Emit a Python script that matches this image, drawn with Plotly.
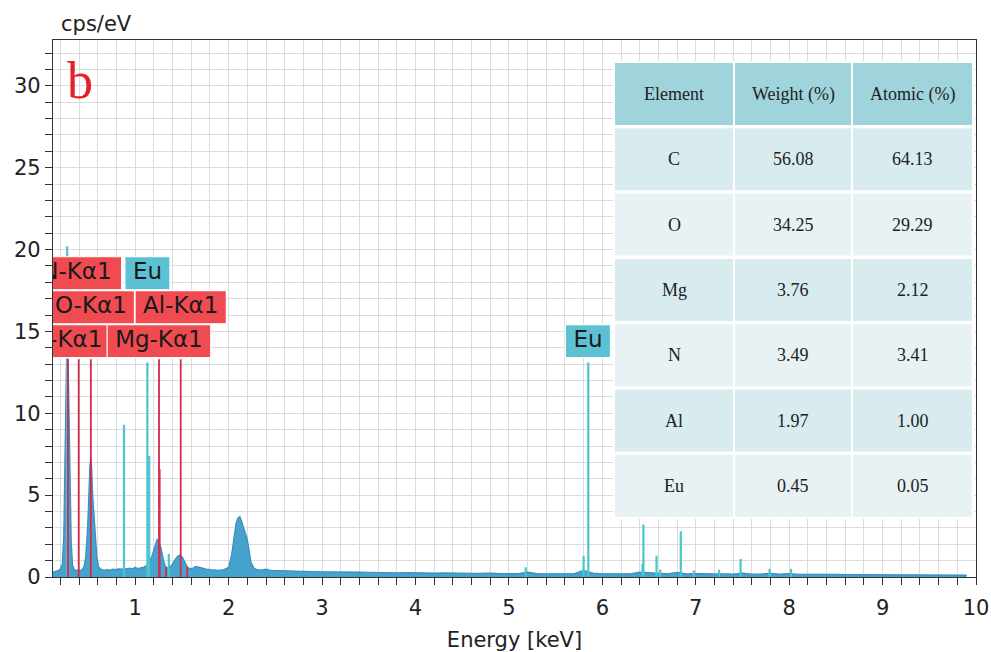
import plotly.graph_objects as go

# ---------------- data ----------------
energy_kev = [0.12, 0.15, 0.18, 0.20, 0.22, 0.235, 0.245, 0.255, 0.265, 0.275, 0.285, 0.295,
              0.305, 0.315, 0.33, 0.35, 0.37, 0.39, 0.41, 0.43, 0.45, 0.47, 0.49, 0.505, 0.515,
              0.525, 0.535, 0.545, 0.56, 0.575, 0.59, 0.61, 0.64, 0.67, 0.70, 0.73, 0.76, 0.79,
              0.82, 0.85, 0.88, 0.91, 0.94, 0.97, 1.00, 1.03, 1.06, 1.09, 1.12, 1.15, 1.18, 1.21,
              1.235, 1.255, 1.275, 1.30, 1.32, 1.34, 1.37, 1.40, 1.43, 1.46, 1.485, 1.51, 1.535,
              1.56, 1.59, 1.62, 1.65, 1.68, 1.72, 1.76, 1.80, 1.85, 1.90, 1.95, 2.00, 2.03, 2.06,
              2.08, 2.10, 2.12, 2.14, 2.16, 2.18, 2.20, 2.22, 2.24, 2.27, 2.30, 2.35, 2.40, 2.45,
              2.5, 2.6, 2.7, 2.8, 2.9, 3.0, 3.1, 3.2, 3.3, 3.4, 3.5, 3.6, 3.7, 3.8, 3.9, 4.0, 4.1,
              4.2, 4.3, 4.4, 4.5, 4.6, 4.7, 4.8, 4.9, 5.0, 5.1, 5.2, 5.3, 5.4, 5.5, 5.6, 5.7, 5.8,
              5.9, 6.0, 6.1, 6.2, 6.3, 6.4, 6.5, 6.6, 6.7, 6.8, 6.9, 7.0, 7.1, 7.2, 7.3, 7.4, 7.5,
              7.6, 7.7, 7.8, 7.9, 8.0, 8.1, 8.2, 8.3, 8.4, 8.5, 8.6, 8.7, 8.8, 8.9, 9.0, 9.1, 9.2,
              9.3, 9.4, 9.5, 9.6, 9.7, 9.8, 9.9]
counts_cps = [0.30, 0.35, 0.40, 0.50, 0.80, 2.5, 6.5, 11.0, 13.5, 13.8, 12.5, 9.0,
              5.0, 2.2, 0.7, 0.45, 0.40, 0.45, 0.40, 0.45, 0.60, 1.2, 3.0, 5.5, 6.8,
              7.3, 6.6, 5.0, 3.9, 2.6, 1.2, 0.6, 0.45, 0.40, 0.45, 0.42, 0.48, 0.45,
              0.50, 0.48, 0.52, 0.50, 0.55, 0.50, 0.58, 0.52, 0.55, 0.60, 0.70, 0.90, 1.3, 1.9,
              2.3, 2.2, 1.8, 1.1, 0.7, 0.55, 0.60, 0.80, 1.10, 1.30, 1.35, 1.15, 0.85,
              0.60, 0.50, 0.55, 0.65, 0.60, 0.52, 0.48, 0.45, 0.42, 0.40, 0.45, 0.60, 1.3, 2.6,
              3.3, 3.6, 3.7, 3.4, 3.0, 2.7, 2.3, 1.6, 0.9, 0.55, 0.45, 0.42, 0.48, 0.40,
              0.40, 0.37, 0.36, 0.34, 0.35, 0.32, 0.31, 0.32, 0.29, 0.30, 0.29, 0.27, 0.29, 0.26, 0.27, 0.25, 0.26,
              0.24, 0.25, 0.23, 0.24, 0.23, 0.22, 0.24, 0.21, 0.22, 0.21, 0.30, 0.21, 0.20, 0.21, 0.19, 0.21, 0.40,
              0.24, 0.20, 0.19, 0.20, 0.19, 0.30, 0.27, 0.23, 0.19, 0.29, 0.19, 0.21, 0.18, 0.19, 0.20, 0.18, 0.24,
              0.17, 0.18, 0.23, 0.17, 0.21, 0.16, 0.17, 0.16, 0.15, 0.16, 0.15, 0.15, 0.14, 0.15, 0.14, 0.14, 0.13,
              0.14, 0.13, 0.13, 0.12, 0.13, 0.12, 0.12]

# Eu marker lines (energy keV, height cps/eV)
eu_line_e = [0.272, 0.88, 1.13, 1.15, 1.36, 5.18, 5.80, 5.85, 6.43, 6.44, 6.58, 6.62, 6.84, 6.98, 7.25, 7.48, 7.79, 8.02]
eu_line_h = [20.2, 9.3, 13.1, 7.4, 1.4, 0.6, 1.3, 13.1, 0.8, 3.2, 1.3, 0.45, 2.8, 0.4, 0.45, 1.1, 0.5, 0.5]

# identified element marker lines
el_line_e = [0.280, 0.395, 0.525, 1.255, 1.487, 1.262, 1.33, 1.557]
el_line_h = [13.3, 13.3, 13.3, 13.3, 13.3, 6.6, 0.6, 0.6]

# peak labels
label_text = ["C-Kα1", "N-Kα1", "O-Kα1", "Mg-Kα1", "Al-Kα1", "Eu", "Eu"]
label_e = [0.277, 0.392, 0.525, 1.254, 1.487, 1.131, 5.846]
label_row = [0, 2, 1, 0, 1, 2, 0]
label_is_eu = [False, False, False, False, False, True, True]

# composition table
tbl_header = ["Element", "Weight (%)", "Atomic (%)"]
tbl_element = ["C", "O", "Mg", "N", "Al", "Eu"]
tbl_weight = ["56.08", "34.25", "3.76", "3.49", "1.97", "0.45"]
tbl_atomic = ["64.13", "29.29", "2.12", "3.41", "1.00", "0.05"]

x_ticks = [1, 2, 3, 4, 5, 6, 7, 8, 9, 10]
y_ticks = [0, 5, 10, 15, 20, 25, 30]

# ---------------- layout constants ----------------
W, H = 991, 652
ML, MR, MT, MB = 53, 15, 40, 75
PW, PH = W - ML - MR, H - MT - MB
XR = [0.12, 10.0]
YR = [0.0, 32.8]
px_per_kev = PW / (XR[1] - XR[0])


def px2px(xp):  # pixel x -> paper fraction
    return (xp - ML) / PW


def py2py(yp):  # pixel y -> paper fraction
    return (H - MB - yp) / PH


FONT = "DejaVu Sans"
SPEC_COLOR = "#45a3cd"
EU_COLOR = "#4cc4d0"
EL_COLOR = "#d42a4c"
RED_BOX = "#ef4b50"
CYAN_BOX = "#5cc1d4"

fig = go.Figure()

fig.add_trace(go.Scatter(x=energy_kev, y=counts_cps, mode="lines", fill="tozeroy",
                         line=dict(color="#3a8fbf", width=1.2), fillcolor=SPEC_COLOR,
                         hoverinfo="skip", showlegend=False))


def vlines(es, hs):
    xs, ys = [], []
    for e, h in zip(es, hs):
        xs += [e, e, None]
        ys += [0, h, None]
    return xs, ys


xs, ys = vlines(eu_line_e, eu_line_h)
fig.add_trace(go.Scatter(x=xs, y=ys, mode="lines", line=dict(color=EU_COLOR, width=2.2),
                         hoverinfo="skip", showlegend=False))
xs, ys = vlines(el_line_e, el_line_h)
fig.add_trace(go.Scatter(x=xs, y=ys, mode="lines", line=dict(color=EL_COLOR, width=1.8),
                         hoverinfo="skip", showlegend=False))

# label boxes sized from a text-width estimate (DejaVu Sans advance widths, em)
LABEL_FS = 23
cw = {'M': 0.863, 'g': 0.635, '-': 0.361, 'K': 0.656, 'α': 0.659, '1': 0.636, 'A': 0.684,
      'l': 0.278, 'O': 0.787, 'C': 0.698, 'N': 0.748, 'E': 0.632, 'u': 0.634}
label_dx_px = [0, -2, 0, 0, 0, 0, 0]
ROW_BASE, ROW_H, BOX_H = 13.4, 2.07, 2.02
row_mid, text_x = [], []
for t, e, r, iseu, dx in zip(label_text, label_e, label_row, label_is_eu, label_dx_px):
    wpx = sum(cw.get(c, 0.6) for c in t) * LABEL_FS + 16
    hw = wpx / 2 / px_per_kev
    y0 = ROW_BASE + r * ROW_H
    y1 = y0 + BOX_H
    row_mid.append((y0 + y1) / 2)
    text_x.append(e + dx / px_per_kev)
    fig.add_trace(go.Scatter(x=[e - hw, e + hw, e + hw, e - hw, e - hw], y=[y0, y0, y1, y1, y0],
                             mode="lines", fill="toself", fillcolor=CYAN_BOX if iseu else RED_BOX,
                             line=dict(color="white", width=1.2), hoverinfo="skip", showlegend=False))

fig.add_trace(go.Scatter(x=text_x, y=row_mid, mode="text", text=label_text,
                         textposition="middle center",
                         textfont=dict(family=FONT, size=LABEL_FS, color="#1a1a1a"),
                         hoverinfo="skip", showlegend=False, cliponaxis=True))

# ---------------- composition table (drawn as cells) ----------------
col_edges = [(615, 733), (735, 851), (853, 972)]
TBL_TOP, ROW_PITCH, CELL_H = 63, 65.3, 62
HEADER_FILL = "#a0d4dd"
ROW_FILLS = ["#d8ecef", "#e8f1f4"]
shapes = [dict(type="rect", xref="paper", yref="paper", layer="above",
               x0=px2px(613), x1=px2px(974), y0=py2py(TBL_TOP - 2),
               y1=py2py(TBL_TOP + 6 * ROW_PITCH + CELL_H + 2),
               fillcolor="white", line=dict(width=0))]
columns = [tbl_element, tbl_weight, tbl_atomic]
for r in range(len(tbl_element) + 1):
    top = TBL_TOP + r * ROW_PITCH
    fill = HEADER_FILL if r == 0 else ROW_FILLS[(r - 1) % 2]
    for c, (x0, x1) in enumerate(col_edges):
        shapes.append(dict(type="rect", xref="paper", yref="paper", layer="above",
                           x0=px2px(x0), x1=px2px(x1), y0=py2py(top + CELL_H), y1=py2py(top),
                           fillcolor=fill, line=dict(width=0)))
        txt = tbl_header[c] if r == 0 else columns[c][r - 1]
        fig.add_annotation(text=txt, xref="paper", yref="paper",
                           x=px2px((x0 + x1) / 2), y=py2py(top + CELL_H / 2),
                           xanchor="center", yanchor="middle", showarrow=False,
                           font=dict(family="Liberation Serif", size=18, color="#222"))

fig.add_annotation(text="cps/eV", xref="paper", yref="paper",
                   x=px2px(59), y=py2py(24), xanchor="left", yanchor="middle", showarrow=False,
                   font=dict(family=FONT, size=21, color="#222"))
fig.add_annotation(text="b", xref="paper", yref="paper",
                   x=px2px(80), y=py2py(81), xanchor="center", yanchor="middle", showarrow=False,
                   font=dict(family="Liberation Serif", size=52, color="#e2212b"))

GRID = "#dcdcdc"
fig.update_layout(
    width=W, height=H, margin=dict(l=ML, r=MR, t=MT, b=MB, autoexpand=False),
    paper_bgcolor="white", plot_bgcolor="white", shapes=shapes,
    xaxis=dict(range=XR, tickvals=x_ticks, ticktext=[str(v) for v in x_ticks], automargin=False,
               ticks="outside", ticklen=7, tickcolor="#333", tickwidth=1, ticklabelstandoff=5,
               showgrid=True, gridcolor=GRID, gridwidth=1, zeroline=False,
               showline=True, linecolor="#333", linewidth=1.3, mirror=True,
               tickfont=dict(family=FONT, size=21, color="#222"),
               minor=dict(dtick=0.2, tick0=0, ticks="outside", ticklen=7, tickcolor="#333",
                          showgrid=True, gridcolor=GRID, gridwidth=1),
               title=dict(text="Energy [keV]", standoff=12,
                          font=dict(family=FONT, size=21, color="#222"))),
    yaxis=dict(range=YR, tickvals=y_ticks, ticks="outside", ticklen=7, tickcolor="#333",
               automargin=False,
               showgrid=True, gridcolor=GRID, gridwidth=1, zeroline=False,
               showline=True, linecolor="#333", linewidth=1.3, mirror=True,
               tickfont=dict(family=FONT, size=21, color="#222"),
               minor=dict(dtick=1, tick0=0, ticks="outside", ticklen=7, tickcolor="#333",
                          showgrid=True, gridcolor=GRID, gridwidth=1)),
)

fig.write_html("out.html")
